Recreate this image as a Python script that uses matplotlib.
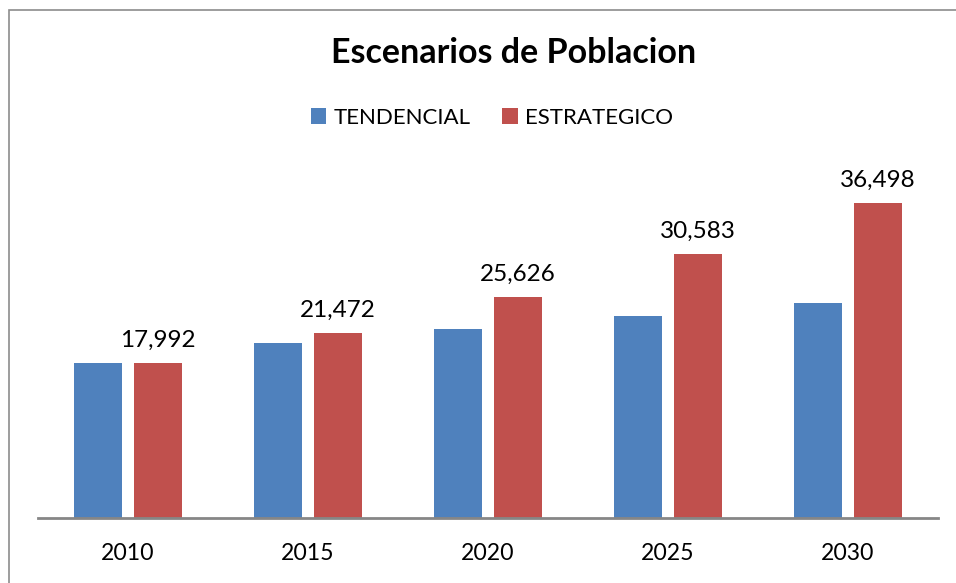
import matplotlib
matplotlib.use("Agg")
import matplotlib.pyplot as plt
import numpy as np
from matplotlib.patches import Rectangle

years = ["2010", "2015", "2020", "2025", "2030"]
tendencial = [17992, 20300, 21960, 23470, 24940]
estrategico = [17992, 21472, 25626, 30583, 36498]
series_names = ["TENDENCIAL", "ESTRATEGICO"]
colors = ["#4F81BD", "#C0504D"]

plt.rcParams['font.family'] = ['Lato', 'DejaVu Sans']

W, H = 956, 583
fig = plt.figure(figsize=(W / 100, H / 100), dpi=100)

# outer chart frame
fig.patches.append(Rectangle((9 / W, -0.1), 1.1, 1.1 - 10 / H, transform=fig.transFigure,
                             fill=False, edgecolor="#8C8C8C", linewidth=1.2))

ax = fig.add_axes([38 / W, (H - 518) / H, 900 / W, 368 / H])
x = np.arange(len(years))
bw = 0.267
off = 0.1667
ax.bar(x - off, tendencial, width=bw, color=colors[0], label=series_names[0])
ax.bar(x + off, estrategico, width=bw, color=colors[1], label=series_names[1])

for xi, v in zip(x, estrategico):
    ax.annotate(f"{v:,}", (xi + off, v), xytext=(0, 9), textcoords="offset points",
                ha="center", va="bottom", fontsize=17.5, color="black")

ax.set_xlim(-0.5, len(years) - 0.5)
ax.set_ylim(0, 368 * 116)
ax.set_xticks(x)
ax.set_xticklabels(years, fontsize=16.6)
ax.tick_params(axis="x", length=0, pad=18)
ax.set_yticks([])
for s in ["top", "right", "left"]:
    ax.spines[s].set_visible(False)
ax.spines["bottom"].set_color("#868686")
ax.spines["bottom"].set_linewidth(2)

fig.text(514 / W, 1 - 53 / H, "Escenarios de Poblacion", ha="center", va="center",
         fontsize=24.5, fontweight="bold")

fig.legend(loc="center", bbox_to_anchor=(492 / W, 1 - 118 / H), ncol=2, frameon=False,
           fontsize=16, handlelength=0.7, handleheight=0.7, handletextpad=0.35,
           columnspacing=1.4)

fig.savefig("out.png", dpi=100)
